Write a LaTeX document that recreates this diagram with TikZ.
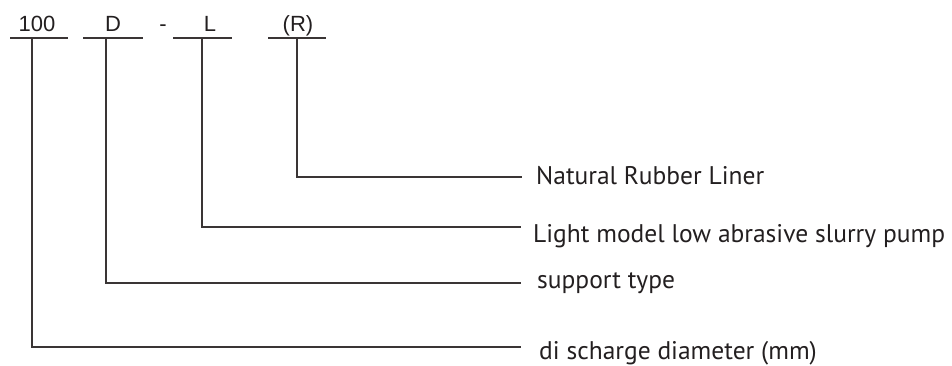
\documentclass[tikz,border=0pt]{standalone}
\usepackage{fontspec}
\setmainfont{Liberation Sans}
\newfontfamily\descfont{PT Sans}
\definecolor{ink}{RGB}{58,53,53}
\definecolor{txt}{RGB}{35,31,32}
\tikzset{
  code/.style={inner sep=0pt, anchor=base, text=txt, font=\fontsize{22}{24}\selectfont},
  desc/.style={inner sep=0pt, anchor=base west, text=txt, font=\descfont\fontsize{25.5}{28}\selectfont},
  lead/.style={draw=ink, line width=1.4pt},
}
\begin{document}
\begin{tikzpicture}[x=1pt,y=-1pt]
\useasboundingbox (0,0) rectangle (952,366);
% top code letters
\node[code] (t100) at (37,32) {100};
\node[code] (tD) at (113,32) {D};
\node[code] (tdash) at (163,32) {-};
\node[code] (tL) at (210,32) {L};
\node[code] (tR) at (298,32) {(R)};
% underlines
\coordinate (u100a) at (10,38);  \coordinate (u100b) at (68,38);
\coordinate (uDa) at (83,38);    \coordinate (uDb) at (143,38);
\coordinate (uLa) at (173,38);   \coordinate (uLb) at (232,38);
\coordinate (uRa) at (268,38);   \coordinate (uRb) at (326,38);
\draw[lead] (u100a) -- (u100b);
\draw[lead] (uDa) -- (uDb);
\draw[lead] (uLa) -- (uLb);
\draw[lead] (uRa) -- (uRb);
% stems
\coordinate (s100) at (32,38);
\coordinate (sD) at (106,38);
\coordinate (sL) at (202,38);
\coordinate (sR) at (297,38);
% line ends
\coordinate (eR) at (522,177);
\coordinate (eL) at (521,227);
\coordinate (eD) at (521,283);
\coordinate (e100) at (521,347);
% descriptions
\node[desc] (dR) at (536,184) {Natural Rubber Liner};
\node[desc] (dL) at (533,242) {Light model low abrasive slurry pump};
\node[desc] (dD) at (537,288) {support type};
\node[desc] (d100) at (539,359) {di scharge diameter (mm)};
% connectors
\draw[lead] (sR) |- (eR);
\draw[lead] (sL) |- (eL);
\draw[lead] (sD) |- (eD);
\draw[lead] (s100) |- (e100);
\end{tikzpicture}
\end{document}
